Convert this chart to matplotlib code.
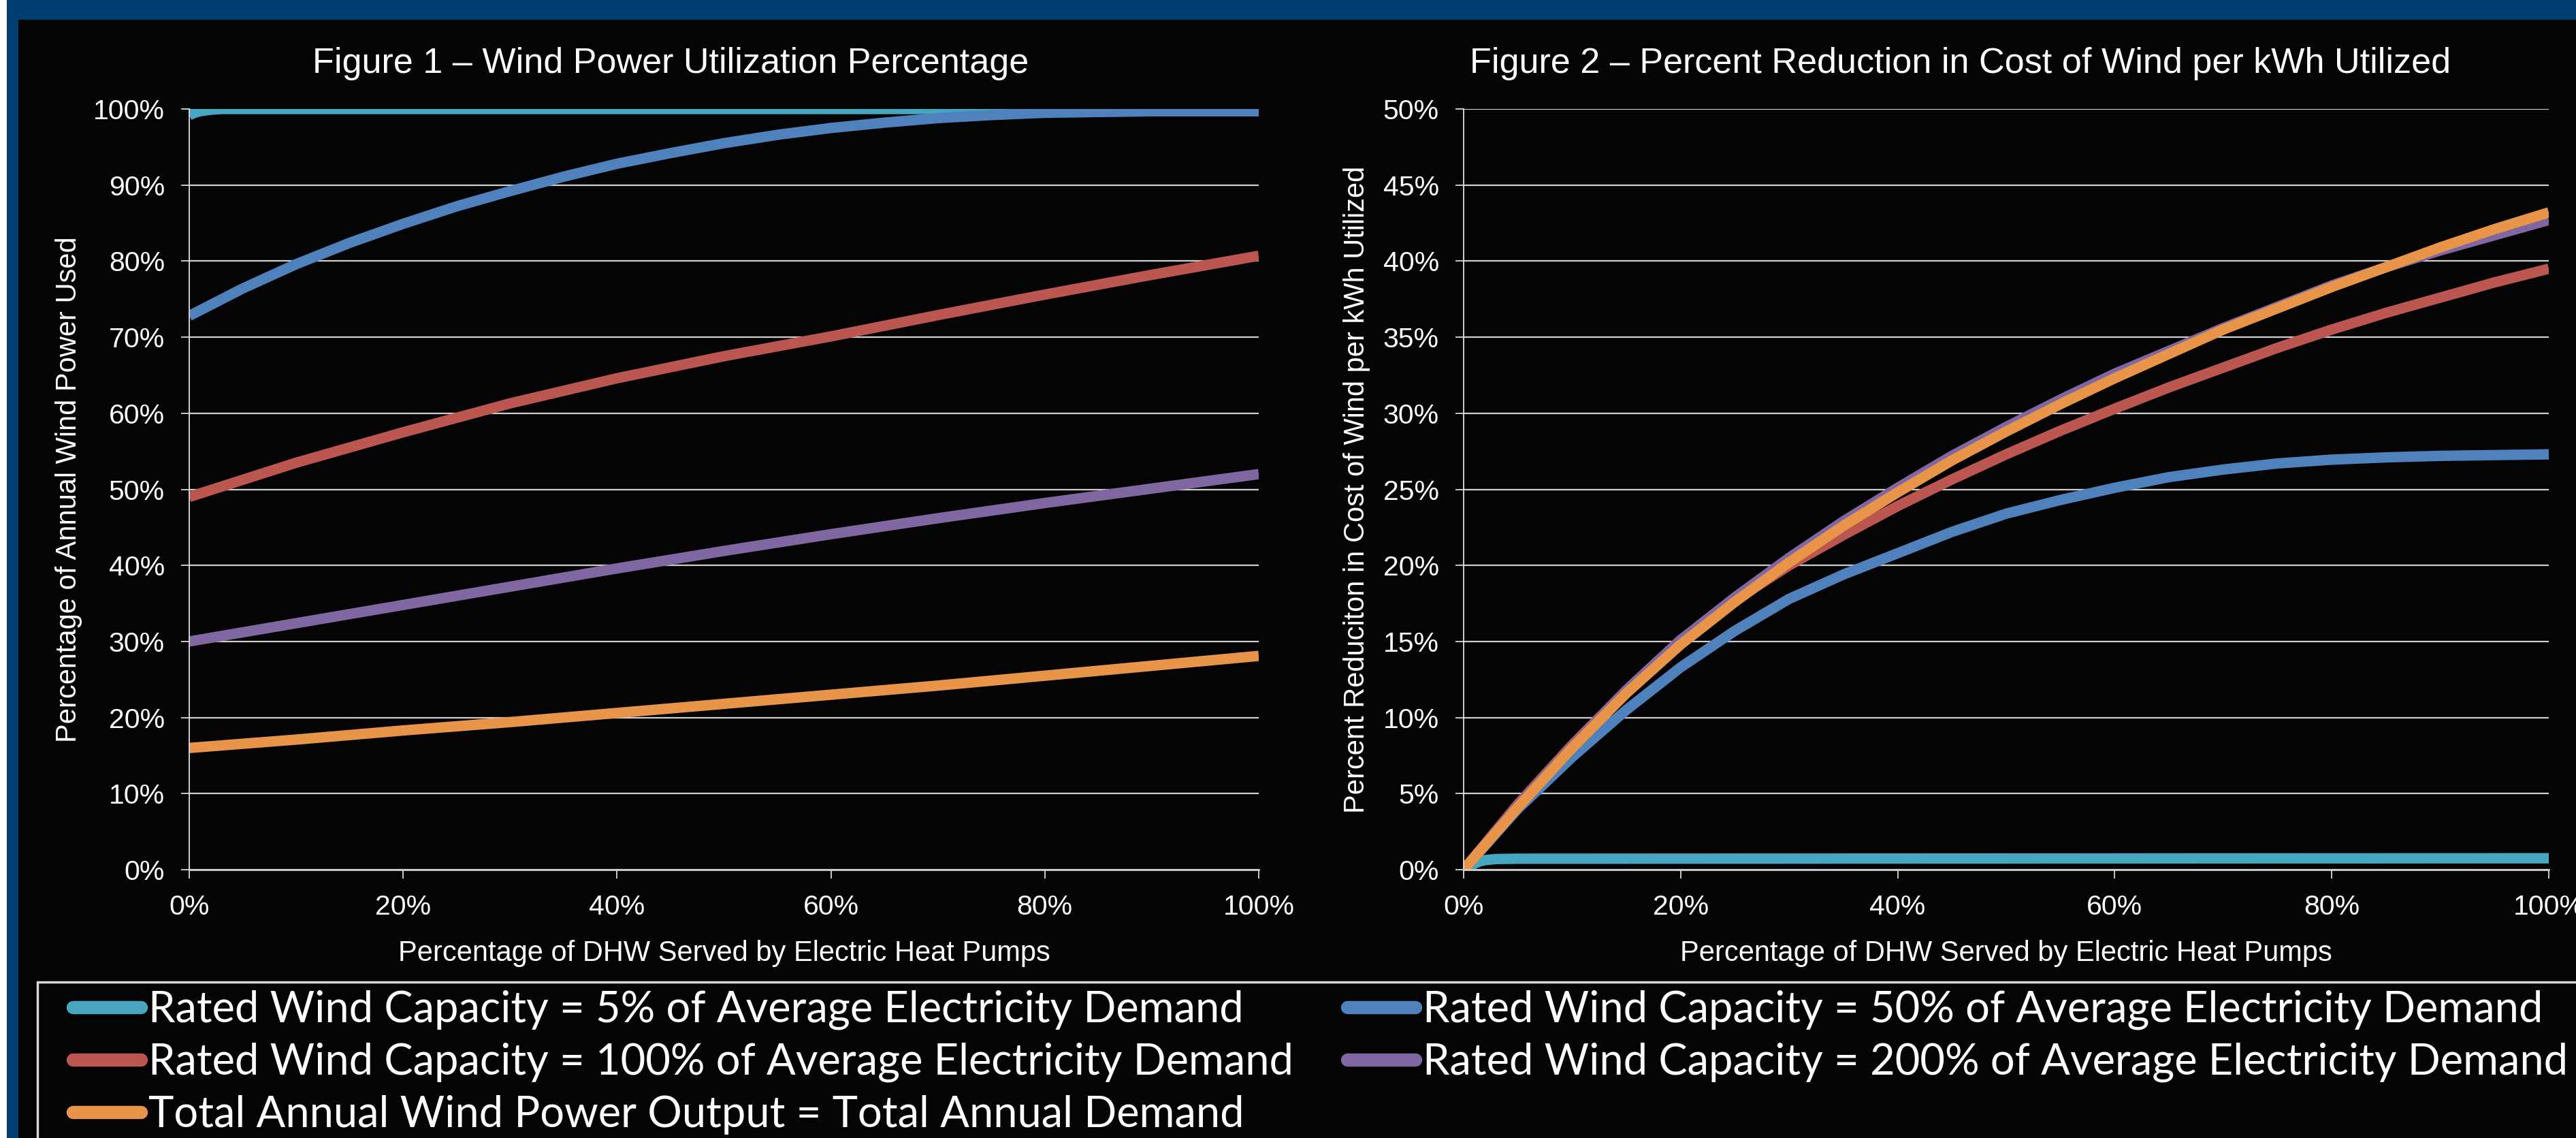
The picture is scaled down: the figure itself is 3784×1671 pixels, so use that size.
import matplotlib
matplotlib.use('Agg')
import matplotlib.pyplot as plt
from matplotlib.lines import Line2D
from matplotlib.patches import Rectangle
from matplotlib.ticker import FuncFormatter, MultipleLocator

plt.rcParams['font.family'] = ['Liberation Sans', 'DejaVu Sans']

# ------------------------------------------------------------
# data (% values)
# ------------------------------------------------------------
x_fine = [0, 5, 10, 15, 20, 25, 30, 35, 40, 45, 50,
          55, 60, 65, 70, 75, 80, 85, 90, 95, 100]
x_coarse = [0, 10, 20, 30, 40, 50, 60, 70, 80, 90, 100]

series_names = [
    'Rated Wind Capacity = 5% of Average Electricity Demand',
    'Rated Wind Capacity = 50% of Average Electricity Demand',
    'Rated Wind Capacity = 100% of Average Electricity Demand',
    'Rated Wind Capacity = 200% of Average Electricity Demand',
    'Total Annual Wind Power Output = Total Annual Demand',
]
colors = ['#46A6BF', '#4F81BC', '#BC5650', '#8067A1', '#E8954A']

# Figure 1 - utilisation
f1_x_cap5 = [0, 0.5, 1, 2, 3, 100]
f1_cap5 = [99.2, 99.5, 99.7, 99.9, 100, 100]
f1_cap50 = [72.8, 76.4, 79.6, 82.4, 84.9, 87.2, 89.2, 91.1, 92.8, 94.2, 95.5,
            96.6, 97.5, 98.2, 98.8, 99.2, 99.5, 99.6, 99.7, 99.7, 99.7]
f1_cap100 = [49.0, 53.5, 57.5, 61.3, 64.6, 67.5, 70.1, 72.9, 75.6, 78.2, 80.7]
f1_cap200 = [30.0, 32.4, 34.8, 37.2, 39.6, 41.9, 44.1, 46.2, 48.2, 50.1, 52.0]
f1_total = [16.0, 17.1, 18.3, 19.4, 20.6, 21.8, 23.0, 24.2, 25.5, 26.8, 28.1]

# Figure 2 - cost reduction
f2_x_cap5 = [0, 0.5, 1, 1.5, 2, 3, 5, 100]
f2_cap5 = [0, 0.15, 0.4, 0.55, 0.63, 0.7, 0.72, 0.75]
f2_cap50 = [0, 4.0, 7.4, 10.5, 13.3, 15.7, 17.8, 19.4, 20.8, 22.2, 23.4,
            24.3, 25.1, 25.8, 26.3, 26.7, 26.95, 27.1, 27.2, 27.25, 27.3]
f2_cap100 = [0, 4.3, 8.2, 11.8, 15.1, 17.7, 20.0, 22.0, 23.9, 25.65, 27.3,
             28.85, 30.3, 31.7, 33.0, 34.3, 35.5, 36.6, 37.6, 38.6, 39.5]
f2_cap200 = [0, 4.2, 8.1, 11.8, 15.1, 17.9, 20.5, 22.9, 25.1, 27.2, 29.1,
             30.9, 32.6, 34.1, 35.6, 37.0, 38.4, 39.6, 40.7, 41.7, 42.7]
f2_total = [0, 4.1, 8.0, 11.6, 14.8, 17.6, 20.2, 22.6, 24.8, 26.9, 28.8,
            30.6, 32.3, 33.9, 35.5, 36.9, 38.3, 39.6, 40.9, 42.1, 43.2]

# ------------------------------------------------------------
W, H = 3784, 1671
fig = plt.figure(figsize=(W / 100, H / 100), dpi=100, facecolor='white')

# page background: blue frame + black panel
fig.patches.append(Rectangle((10 / W, 0), 1, 1, transform=fig.transFigure,
                             facecolor='#003F71', edgecolor='none', zorder=-10))
fig.patches.append(Rectangle((27 / W, 0), 1, 1 - 29 / H, transform=fig.transFigure,
                             facecolor='#040404', edgecolor='none', zorder=-9))
# legend box outline (runs off the page at right / bottom)
fig.patches.append(Rectangle((55 / W, -0.05), 1.1, 0.05 + 1 - 1442 / H,
                             transform=fig.transFigure, facecolor='none',
                             edgecolor='#d8d8d8', lw=2.5, zorder=-8))

txt = 'white'
grid_c = '#cfcfcf'
pct = FuncFormatter(lambda v, p: f'{v:.0f}%')


def style_axes(ax, ymax, ystep):
    ax.set_facecolor('none')
    ax.set_xlim(0, 100)
    ax.set_ylim(0, ymax)
    ax.xaxis.set_major_locator(MultipleLocator(20))
    ax.yaxis.set_major_locator(MultipleLocator(ystep))
    ax.xaxis.set_major_formatter(pct)
    ax.yaxis.set_major_formatter(pct)
    ax.grid(True, axis='y', color=grid_c, lw=1.6)
    ax.set_axisbelow(True)
    for s in ['top', 'right']:
        ax.spines[s].set_visible(False)
    ax.spines['left'].set_color('#e0e0e0')
    ax.spines['left'].set_linewidth(1.3)
    ax.spines['bottom'].set_color(grid_c)
    ax.spines['bottom'].set_linewidth(2.0)
    ax.tick_params(axis='both', colors='#d8d8d8', labelcolor=txt,
                   labelsize=29.5, length=9, width=1.3, direction='out', pad=17)


lw = 11

# ---- Figure 1 ----
ax1 = fig.add_axes([278 / W, 1 - 1277 / H, (1849 - 278) / W, (1277 - 160) / H])
style_axes(ax1, 100, 10)
ax1.plot(f1_x_cap5, f1_cap5, color=colors[0], lw=lw, solid_capstyle='butt')
ax1.plot(x_fine, f1_cap50, color=colors[1], lw=lw, solid_capstyle='butt')
ax1.plot(x_coarse, f1_cap100, color=colors[2], lw=lw, solid_capstyle='butt')
ax1.plot(x_coarse, f1_cap200, color=colors[3], lw=lw, solid_capstyle='butt')
ax1.plot(x_coarse, f1_total, color=colors[4], lw=lw, solid_capstyle='butt')
ax1.set_xlabel('Percentage of DHW Served by Electric Heat Pumps',
               color=txt, fontsize=30)
ax1.set_ylabel('Percentage of Annual Wind Power Used', color=txt, fontsize=30)
ax1.xaxis.set_label_coords(0.5, -0.092)
ax1.yaxis.set_label_coords(-0.100, 0.5)

# ---- Figure 2 ----
ax2 = fig.add_axes([2150 / W, 1 - 1277 / H, (3744 - 2150) / W, (1277 - 160) / H])
style_axes(ax2, 50, 5)
ax2.plot(f2_x_cap5, f2_cap5, color=colors[0], lw=lw, solid_capstyle='butt')
ax2.plot(x_fine, f2_cap50, color=colors[1], lw=lw, solid_capstyle='butt')
ax2.plot(x_fine, f2_cap100, color=colors[2], lw=lw, solid_capstyle='butt')
ax2.plot(x_fine, f2_cap200, color=colors[3], lw=lw, solid_capstyle='butt')
ax2.plot(x_fine, f2_total, color=colors[4], lw=lw, solid_capstyle='butt')
ax2.set_xlabel('Percentage of DHW Served by Electric Heat Pumps',
               color=txt, fontsize=30)
ax2.set_ylabel('Percent Reduciton in Cost of Wind per kWh Utilized',
               color=txt, fontsize=30)
ax2.xaxis.set_label_coords(0.5, -0.092)
ax2.yaxis.set_label_coords(-0.086, 0.5)

# titles (centred on the chart areas, not the plot areas)
fig.text(985 / W, 1 - 107 / H, 'Figure 1 – Wind Power Utilization Percentage',
         color=txt, fontsize=37.5, ha='center', va='baseline')
fig.text(2880 / W, 1 - 107 / H,
         'Figure 2 – Percent Reduction in Cost of Wind per kWh Utilized',
         color=txt, fontsize=37.5, ha='center', va='baseline')

# ---- shared legend ----
order = [0, 2, 4, 1, 3]   # column-major: left column 5%/100%/total
handles = [Line2D([], [], color=colors[i], lw=14, solid_capstyle='round')
           for i in order]
labels = [series_names[i] for i in order]
fig.legend(handles, labels, loc='upper left',
           bbox_to_anchor=(107 / W, 1 - 1454 / H), ncol=2, frameon=False,
           prop={'family': ['Lato', 'DejaVu Sans'], 'size': 45.5},
           labelcolor=txt, handlelength=1.58, handletextpad=0.18,
           columnspacing=1.25, labelspacing=0.29, borderpad=0, borderaxespad=0)

fig.savefig('out.png', dpi=100, facecolor=fig.get_facecolor())
